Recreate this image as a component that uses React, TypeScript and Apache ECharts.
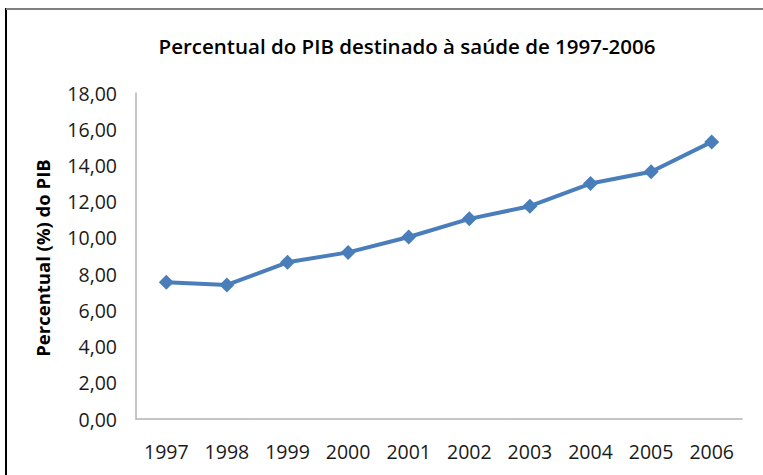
import React, { useEffect, useRef } from "react";
import * as echarts from "echarts";

const years = ["1997", "1998", "1999", "2000", "2001", "2002", "2003", "2004", "2005", "2006"];
const percentPIB = [7.55, 7.4, 8.65, 9.2, 10.05, 11.05, 11.75, 13.0, 13.65, 15.3];
const titleText = "Percentual do PIB destinado à saúde de 1997-2006";
const yAxisName = "Percentual (%) do PIB";

export default function App() {
  const ref = useRef<HTMLDivElement>(null);
  useEffect(() => {
    document.body.style.margin = "0";
    const chart = echarts.init(ref.current!, null, { renderer: "svg" });
    const font = "'Open Sans', 'Noto Sans', sans-serif";
    chart.setOption({
      animation: false,
      backgroundColor: "#ffffff",
      textStyle: { fontFamily: font },
      title: {
        text: titleText,
        left: 402,
        textAlign: "center",
        top: 30,
        textStyle: { fontFamily: font, fontSize: 20.5, fontWeight: 600, color: "#000" },
      },
      graphic: [
        { type: "line", shape: { x1: 6, y1: 8, x2: 6, y2: 475 }, style: { stroke: "#000", lineWidth: 2 } },
        { type: "line", shape: { x1: 6, y1: 9, x2: 763, y2: 9 }, style: { stroke: "#808080", lineWidth: 2 } },
        {
          type: "text",
          x: 42,
          y: 258,
          rotation: Math.PI / 2,
          style: {
            text: yAxisName,
            fontFamily: font,
            fontSize: 18.5,
            fontWeight: "bold",
            fill: "#000",
            align: "center",
            verticalAlign: "middle",
          },
        },
      ],
      grid: { left: 136, top: 93, right: 21, bottom: 56 },
      xAxis: {
        type: "category",
        data: years,
        boundaryGap: true,
        axisLine: { lineStyle: { color: "#b3b3b3", width: 1.5 } },
        axisTick: { show: false },
        axisLabel: { color: "#1a1a1a", fontSize: 19.5, margin: 22, fontFamily: font },
      },
      yAxis: {
        type: "value",
        min: 0,
        max: 18,
        interval: 2,
        axisLine: { show: true, lineStyle: { color: "#b3b3b3", width: 1.5 } },
        axisTick: { show: false },
        splitLine: { show: false },
        axisLabel: {
          color: "#1a1a1a",
          fontSize: 19.5,
          margin: 19,
          fontFamily: font,
          formatter: (v: number) => v.toFixed(2).replace(".", ","),
        },
      },
      series: [
        {
          type: "line",
          data: percentPIB,
          symbol: "diamond",
          symbolSize: 15,
          lineStyle: { color: "#4a7ebb", width: 4 },
          itemStyle: { color: "#4a7ebb" },
        },
      ],
    });
    return () => chart.dispose();
  }, []);
  return <div ref={ref} style={{ width: 763, height: 475 }} />;
}
